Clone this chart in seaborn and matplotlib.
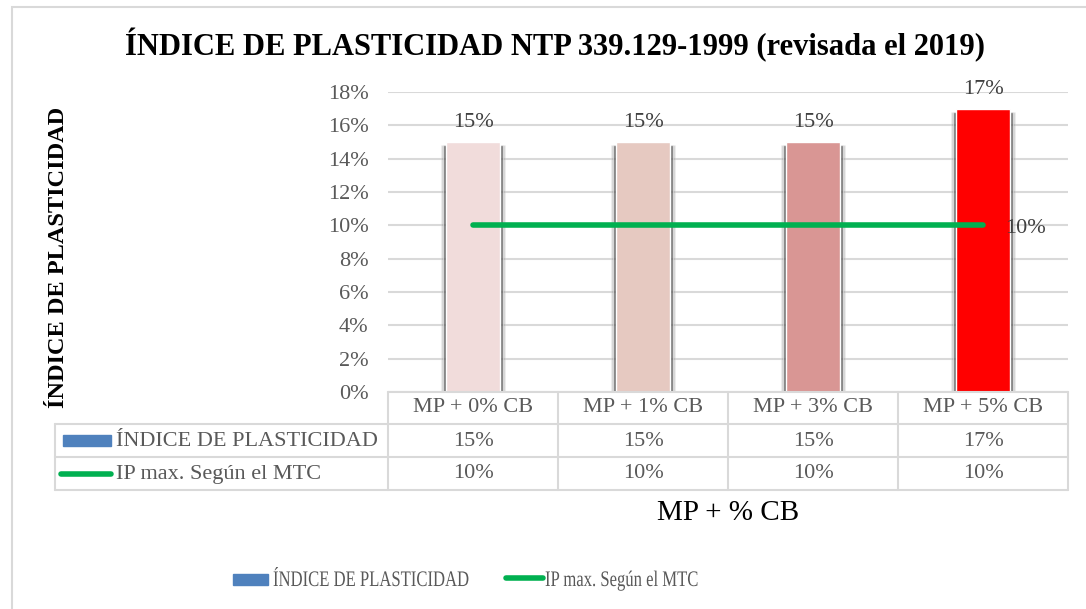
import matplotlib
matplotlib.use("Agg")
import matplotlib.pyplot as plt
from matplotlib.lines import Line2D
from matplotlib.patches import Rectangle, PathPatch
from matplotlib.textpath import TextPath
from matplotlib.font_manager import FontProperties
from matplotlib.transforms import Affine2D
import seaborn as sns
import pandas as pd

categories = ["MP + 0% CB", "MP + 1% CB", "MP + 3% CB", "MP + 5% CB"]
ip_values = [0.15, 0.15, 0.15, 0.17]
ip_max = [0.10, 0.10, 0.10, 0.10]
bar_colors = ["#F1DCDB", "#E6C9C1", "#D99694", "#FF0000"]
yticks = [0, 0.02, 0.04, 0.06, 0.08, 0.10, 0.12, 0.14, 0.16, 0.18]
series_names = ["ÍNDICE DE PLASTICIDAD", "IP max. Según el MTC"]

W, H = 1086, 609

sns.set_theme(style="white")
plt.rcParams["font.family"] = ["Liberation Serif", "DejaVu Serif"]

df = pd.DataFrame({"cat": categories, "ip": ip_values, "max": ip_max})

fig = plt.figure(figsize=(W / 100, H / 100), dpi=100)


def fx(x):
    return x / W


def fy(y):
    return 1 - y / H


# plot area in pixels
L, R, T, B = 388, 1068, 92, 392
ax = fig.add_axes([fx(L), fy(B), fx(R) - fx(L), fy(T) - fy(B)])

# soft shadow behind bars (two layers for a blurred edge)
for w, a in [(0.375, 0.22), (0.35, 0.55)]:
    n0 = len(ax.patches)
    sns.barplot(data=df, x="cat", y="ip", color="#333333", width=w, alpha=a,
                ax=ax, saturation=1, zorder=2)
    for p, v in zip(ax.patches[n0:], ip_values):
        p.set_height(v - 0.002)

sns.barplot(data=df, x="cat", y="ip", hue="cat", palette=bar_colors, width=0.32,
            ax=ax, saturation=1, legend=False, zorder=3)

sns.lineplot(x=list(range(len(categories))), y=ip_max, ax=ax, color="#00B050",
             linewidth=4, solid_capstyle="round", zorder=4)

ax.set_xlim(-0.5, len(categories) - 0.5)
ax.set_ylim(0, 0.18)
ax.set_yticks(yticks)
ax.set_yticklabels([f"{int(round(t * 100))}%" for t in yticks], fontsize=16, color="#595959")
ax.set_xticks([])
ax.set_xlabel("")
ax.set_ylabel("")
ax.tick_params(axis="y", length=0, pad=14)
ax.grid(axis="y", color="#D9D9D9", linewidth=1.5, zorder=0)
ax.set_axisbelow(True)
for s in ax.spines.values():
    s.set_visible(False)

# data labels
for i, v in enumerate(ip_values):
    ax.annotate(f"{int(round(v * 100))}%", (i, v), xytext=(0, 7), textcoords="offset points",
                ha="center", va="bottom", fontsize=16, color="#404040")
ax.annotate(f"{int(round(ip_max[-1] * 100))}%", (len(categories) - 1, ip_max[-1]),
            xytext=(16, -2), textcoords="offset points", ha="left", va="center",
            fontsize=16, color="#404040")


def hline(x0, x1, y, **kw):
    fig.add_artist(Line2D([fx(x0), fx(x1)], [fy(y), fy(y)], transform=fig.transFigure, **kw))


def vline(x, y0, y1, **kw):
    fig.add_artist(Line2D([fx(x), fx(x)], [fy(y0), fy(y1)], transform=fig.transFigure, **kw))


def narrow_text(x, baseline, s, size_px, squeeze, color):
    # condensed text drawn as a path (the legend font is horizontally squeezed)
    path = TextPath((0, 0), s, size=size_px, prop=FontProperties(family="Liberation Serif"))
    tr = Affine2D().scale(squeeze, 1).translate(x, H - baseline)
    fig.add_artist(PathPatch(path, transform=tr, facecolor=color, edgecolor="none"))


grid_kw = dict(color="#D9D9D9", linewidth=1.5)

# data table
rows_y = [392, 424, 457, 490]
col_x = [L + i * (R - L) / len(categories) for i in range(len(categories) + 1)]
hline(L, R, rows_y[0], **grid_kw)
for y in rows_y[1:]:
    hline(55, R, y, **grid_kw)
vline(55, rows_y[1], rows_y[3], **grid_kw)
for x in col_x:
    vline(x, rows_y[0], rows_y[3], **grid_kw)

for i, c in enumerate(categories):
    cx = (col_x[i] + col_x[i + 1]) / 2
    fig.text(fx(cx), fy(408), c, ha="center", va="center", fontsize=16, color="#595959")
    fig.text(fx(cx), fy(441), f"{int(round(ip_values[i] * 100))}%", ha="center", va="center",
             fontsize=16, color="#595959")
    fig.text(fx(cx), fy(474), f"{int(round(ip_max[i] * 100))}%", ha="center", va="center",
             fontsize=16, color="#595959")

fig.add_artist(Rectangle((fx(63), fy(446)), fx(111) - fx(63), fy(435) - fy(446),
                         transform=fig.transFigure, color="#4F81BD"))
fig.text(fx(116), fy(441), series_names[0], ha="left", va="center", fontsize=16, color="#595959")
hline(61, 111, 474, color="#00B050", linewidth=4, solid_capstyle="round")
fig.text(fx(116), fy(474), series_names[1], ha="left", va="center", fontsize=16, color="#595959")

# titles
fig.text(fx(555), fy(45), "ÍNDICE DE PLASTICIDAD NTP 339.129-1999 (revisada el 2019)",
         ha="center", va="center", fontsize=22, fontweight="bold", color="black")
fig.text(fx(59), fy(257), "ÍNDICE DE PLASTICIDAD", rotation=90, ha="center", va="center",
         fontsize=17.5, fontweight="bold", color="black")
fig.text(fx((L + R) / 2), fy(513), "MP + % CB", ha="center", va="center", fontsize=21,
         color="black")

# bottom legend
fig.add_artist(Rectangle((fx(233), fy(585)), fx(268) - fx(233), fy(574) - fy(585),
                         transform=fig.transFigure, color="#4F81BD"))
narrow_text(273, 586, series_names[0], 22.2, 0.75, "#595959")
hline(506, 543, 578, color="#00B050", linewidth=4, solid_capstyle="round")
narrow_text(545, 586, series_names[1], 22.2, 0.75, "#595959")

# outer border
fig.add_artist(Rectangle((fx(12), fy(H + 5)), fx(W + 5) - fx(12), fy(7) - fy(H + 5),
                         transform=fig.transFigure, fill=False, edgecolor="#D9D9D9", linewidth=1.5))

fig.savefig("out.png", dpi=100, facecolor="white")
